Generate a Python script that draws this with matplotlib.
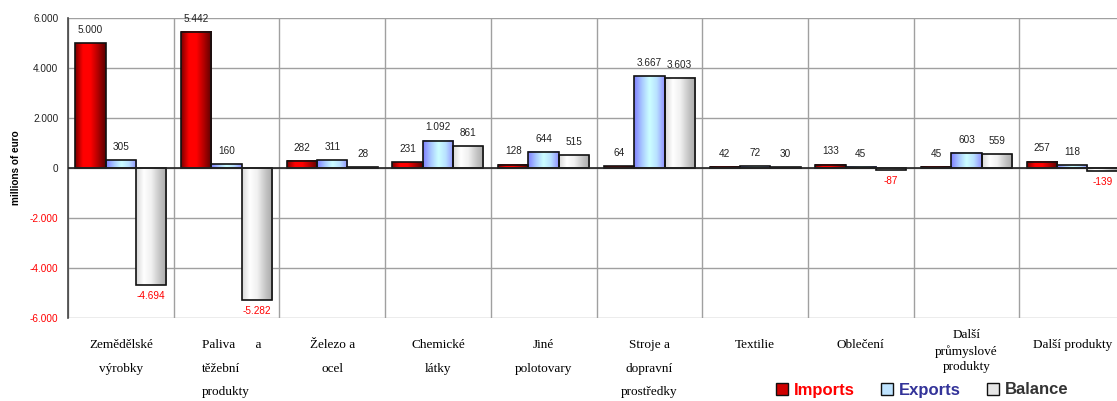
import numpy as np
import matplotlib
matplotlib.use("Agg")
import matplotlib.pyplot as plt
from matplotlib.patches import Rectangle
from matplotlib.colors import LinearSegmentedColormap
import matplotlib.transforms as mtransforms

# data (millions of euro)
categories = ["Zemědělské\nvýrobky", "Paliva      a\ntěžební\nprodukty", "Železo a\nocel",
              "Chemické\nlátky", "Jiné\npolotovary", "Stroje a\ndopravní\nprostředky",
              "Textilie", "Oblečení", "Další\nprůmyslové\nprodukty", "Další produkty"]
imports = [5000, 5442, 282, 231, 128, 64, 42, 133, 45, 257]
exports = [305, 160, 311, 1092, 644, 3667, 72, 45, 603, 118]
balance = [-4694, -5282, 28, 861, 515, 3603, 30, -87, 559, -139]
yticks = [-6000, -4000, -2000, 0, 2000, 4000, 6000]

plt.rcParams['font.family'] = ['Liberation Sans', 'DejaVu Sans']

fig = plt.figure(figsize=(11.17, 4.01), dpi=100)
ax = fig.add_axes([68/1117, 1-318/401, (1125-68)/1117, 300/401])

cmaps = {
    'imp': LinearSegmentedColormap.from_list('imp', ['#7a0000', '#ff0000', '#ff0000', '#b00000', '#5a0000']),
    'exp': LinearSegmentedColormap.from_list('exp', ['#8080ff', '#a8c8ff', '#ccffff', '#b8e0ff', '#9090ff']),
    'bal': LinearSegmentedColormap.from_list('bal', ['#d8d8d8', '#ffffff', '#f0f0f0', '#c8c8c8', '#a8a8a8']),
}
grad = np.linspace(0, 1, 64).reshape(1, -1)

w = 0.287
x = np.arange(len(categories))

def fmt(v):
    s = "{:,}".format(abs(v)).replace(",", ".")
    return "-" + s if v < 0 else s

for vals, off, key in [(imports, -w, 'imp'), (exports, 0, 'exp'), (balance, w, 'bal')]:
    for xi, v in zip(x, vals):
        x0 = xi + off - w/2
        ax.imshow(grad, cmap=cmaps[key], extent=[x0, x0 + w, min(0, v), max(0, v)],
                  aspect='auto', zorder=3, interpolation='bicubic')
        ax.add_patch(Rectangle((x0, 0), w, v, facecolor='none', edgecolor='#111111',
                               linewidth=1.2, zorder=4))
        if v >= 0:
            ax.annotate(fmt(v), (xi + off, v), xytext=(0, 6), textcoords='offset points',
                        ha='center', va='bottom', fontsize=7.2, color='#222222')
        else:
            ax.annotate(fmt(v), (xi + off, v), xytext=(0, -4), textcoords='offset points',
                        ha='center', va='top', fontsize=7.2, color='#ff0000')

ax.set_xlim(-0.5, len(categories) - 0.5)
ax.set_ylim(-6000, 6000)
ax.set_yticks(yticks)
ax.set_yticklabels([fmt(t) for t in yticks], fontsize=7.2)
for lab, t in zip(ax.get_yticklabels(), yticks):
    lab.set_color('#ff0000' if t < 0 else '#222222')
ax.tick_params(axis='y', length=0, pad=7)
ax.set_xticks([])
ax.set_xticks(np.arange(len(categories) + 1) - 0.5, minor=True)
ax.tick_params(axis='x', which='minor', length=0)
ax.grid(axis='y', color='#a0a0a0', linewidth=1, zorder=0)
ax.grid(axis='x', which='minor', color='#a0a0a0', linewidth=1, zorder=0)
ax.axhline(0, color='#222222', linewidth=1.2, zorder=5)
for s in ['top', 'right', 'bottom']:
    ax.spines[s].set_visible(False)
ax.spines['left'].set_color('#444444')
ax.spines['left'].set_linewidth(1.2)
ax.set_ylabel('millions of euro', fontsize=7.2, fontweight='bold', labelpad=6)

# category labels under the plot
trans = mtransforms.blended_transform_factory(ax.transData, fig.transFigure)
for xi, lab in zip(x, categories):
    if lab.startswith("Paliva"):
        ax.text(xi - 0.23, 1-339/401, lab, transform=trans, ha='left', va='top',
                family='Liberation Serif', fontsize=9.5, linespacing=2.3)
    elif lab.startswith("Další\n"):
        ax.text(xi, 1-329/401, lab, transform=trans, ha='center', va='top',
                family='Liberation Serif', fontsize=9.5, linespacing=1.4)
    else:
        ax.text(xi, 1-339/401, lab, transform=trans, ha='center', va='top',
                family='Liberation Serif', fontsize=9.5, linespacing=2.3)

# legend
handles = [Rectangle((0, 0), 1, 1, facecolor='#d00000', edgecolor='#111111'),
           Rectangle((0, 0), 1, 1, facecolor='#bfe4ff', edgecolor='#111111'),
           Rectangle((0, 0), 1, 1, facecolor='#e6e6e6', edgecolor='#111111')]
leg = fig.legend(handles, ['Imports', 'Exports', 'Balance'], loc='center',
                 bbox_to_anchor=(922/1117, 1-390/401), ncol=3, frameon=False,
                 handlelength=0.75, handleheight=0.75, handletextpad=0.3,
                 columnspacing=1.6, borderaxespad=0,
                 prop={'weight': 'bold', 'size': 12},
                 labelcolor=['#ff0000', '#333399', '#333333'])

fig.savefig('out.png', dpi=100)
